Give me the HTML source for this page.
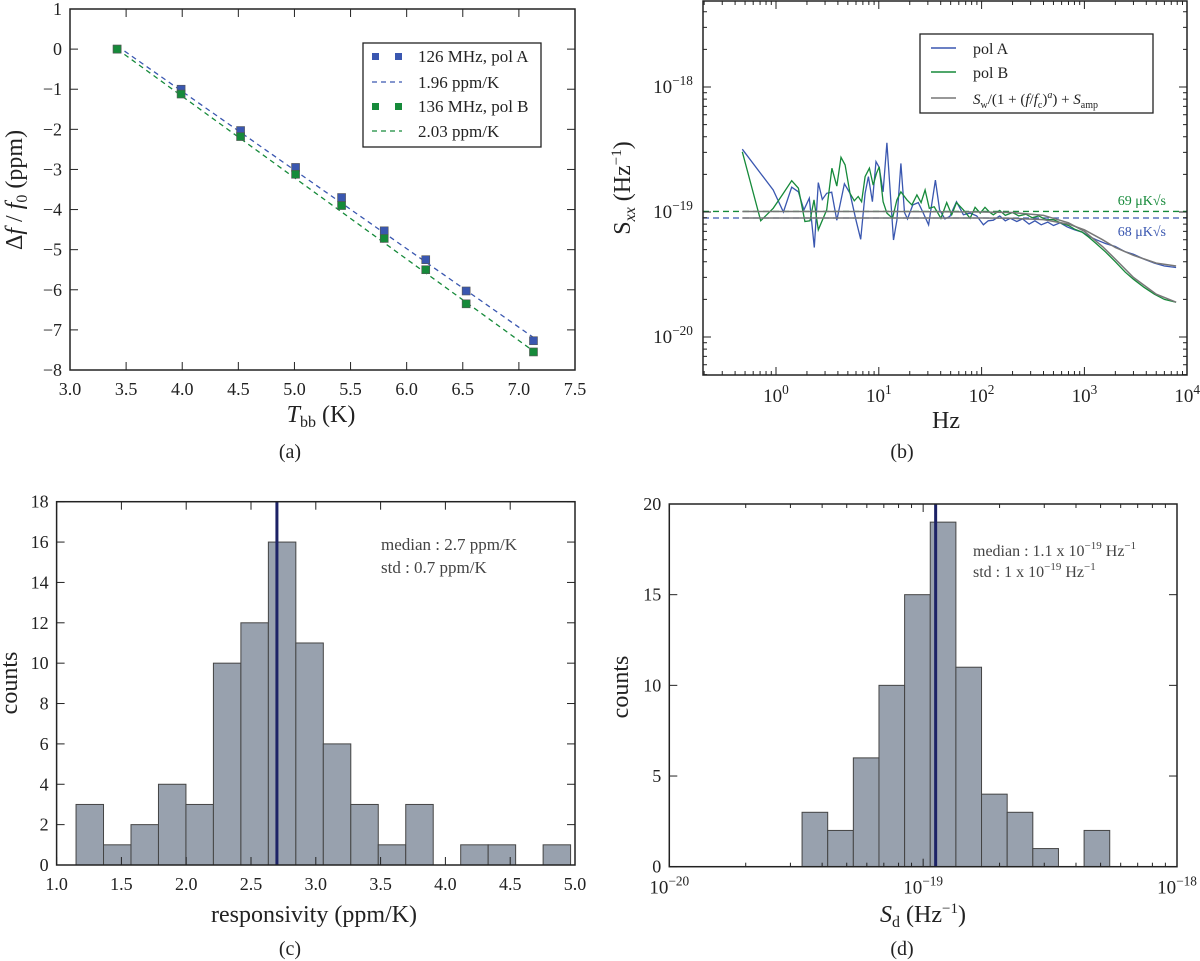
<!DOCTYPE html>
<html><head><meta charset="utf-8">
<style>
html,body{margin:0;padding:0;background:#fff;}
svg{display:block;font-family:"Liberation Serif","DejaVu Serif",serif;}
</style></head>
<body>
<svg id="fig" width="1200" height="961" viewBox="0 0 1200 961" xmlns="http://www.w3.org/2000/svg" font-family="Liberation Serif, DejaVu Serif, serif"></svg>
<script>
// ---------- Panel (a) data ----------
const aTemps = [3.42, 3.99, 4.52, 5.01, 5.42, 5.80, 6.17, 6.53, 7.13];
const aPolA = [0, -1.0, -2.03, -2.95, -3.70, -4.53, -5.25, -6.03, -7.27];
const aPolB = [0, -1.12, -2.18, -3.12, -3.90, -4.72, -5.50, -6.35, -7.55];
const aFitA = [0.08, -7.19];
const aFitB = [0.0, -7.53];
const aXTicks = [3.0, 3.5, 4.0, 4.5, 5.0, 5.5, 6.0, 6.5, 7.0, 7.5];
const aYTicks = [1, 0, -1, -2, -3, -4, -5, -6, -7, -8];

// ---------- Panel (b) data ----------
const bFreqA = [0.47,0.94,1.18,1.42,1.65,1.87,2.11,2.36,2.58,2.82,3.11,3.48,3.9,4.63,5.25,6.0,6.67,7.35,7.93,8.67,9.4,10.1,11.0,12.0,13.9,15.0,16.4,17.8,19.0,21.4,24.2,27.1,30.5,35.5,39.0,44.0,49.0,57.0,66.5,77.3,89.6,104,116,130,150,170,190,220,250,290,330,380,440,500,580,680,800,950,1100,1300,1600,2000,2500,3000,3800,4800,6000,7800];
const bPolA = [3.18e-19,1.5e-19,1.0e-19,1.58e-19,1.45e-19,1.04e-19,1.29e-19,5.2e-20,1.72e-19,1.26e-19,1.41e-19,1.44e-19,8.6e-20,1.68e-19,1.41e-19,8.6e-20,6.05e-20,1.41e-19,1.92e-19,1.21e-19,2.53e-19,2.28e-19,1.45e-19,3.58e-19,5.97e-20,8.6e-20,2.45e-19,0.99e-19,8.8e-20,1.14e-19,1.19e-19,0.98e-19,7.9e-20,1.8e-19,1.04e-19,8.8e-20,0.92e-19,1.21e-19,0.95e-19,0.98e-19,0.93e-19,7.9e-20,8.5e-20,8.6e-20,9.3e-20,8.5e-20,8.9e-20,8.4e-20,8.8e-20,8.0e-20,8.5e-20,7.9e-20,8.3e-20,7.8e-20,8.2e-20,7.6e-20,7.2e-20,6.9e-20,6.4e-20,6.0e-20,5.6e-20,5.3e-20,4.8e-20,4.6e-20,4.2e-20,3.9e-20,3.7e-20,3.6e-20];
const bFreqB = [0.47,0.71,0.94,1.18,1.42,1.65,1.91,2.14,2.34,2.58,3.11,3.5,3.9,4.29,4.7,5.25,5.78,6.3,6.8,7.35,8.1,8.83,9.5,10.1,11.0,12.0,13.6,15.0,16.4,18.8,21.0,23.5,25.8,28.2,31.0,34.6,40.2,45.8,51.2,57.0,66.5,77.3,86.5,97,108,119,130,150,170,200,230,270,310,360,420,500,600,700,800,950,1100,1300,1600,2000,2500,3000,3800,4800,6000,7800];
const bPolB = [3.03e-19,8.5e-20,1.07e-19,1.41e-19,1.78e-19,1.55e-19,8.4e-20,8.5e-20,1.25e-19,7.2e-20,1.04e-19,2.24e-19,1.61e-19,2.74e-19,2.38e-19,1.41e-19,1.23e-19,1.33e-19,1.21e-19,1.92e-19,2.24e-19,1.64e-19,2.04e-19,2.3e-19,1.21e-19,0.98e-19,8.9e-20,1.25e-19,1.45e-19,1.25e-19,1.14e-19,1.37e-19,1.19e-19,1.5e-19,1.07e-19,1.1e-19,8.9e-20,1.19e-19,0.95e-19,1.19e-19,1.04e-19,8.9e-20,1.09e-19,0.98e-19,1.09e-19,1.0e-19,9.5e-20,1.03e-19,9.4e-20,9.9e-20,9.3e-20,9.6e-20,9.0e-20,9.3e-20,8.7e-20,8.7e-20,8.1e-20,7.8e-20,7.3e-20,6.9e-20,6.3e-20,5.6e-20,4.8e-20,4.0e-20,3.3e-20,2.9e-20,2.5e-20,2.2e-20,2.0e-20,1.9e-20];
const bModelFreq = [0.47,10,100,200,400,700,1000,1500,2000,3000,5000,7800];
const bModelA = [8.95e-20,8.95e-20,8.95e-20,8.9e-20,8.7e-20,8.0e-20,7.2e-20,6.0e-20,5.2e-20,4.5e-20,3.9e-20,3.7e-20];
const bModelB = [1.01e-19,1.01e-19,1.0e-19,9.9e-20,9.4e-20,8.2e-20,7.0e-20,5.3e-20,4.2e-20,3.0e-20,2.2e-20,1.9e-20];
const bWhiteA = 8.95e-20;
const bWhiteB = 1.01e-19;
const bXTickExp = [0, 1, 2, 3, 4];
const bYTickExp = [-18, -19, -20];

// ---------- Panel (c) data ----------
const cEdgeStart = 1.15;
const cBinWidth = 0.212;
const cCounts = [3,1,2,4,3,10,12,16,11,6,3,1,3,0,1,1,0,1];
const cMedian = 2.7;
const cXTicks = [1.0,1.5,2.0,2.5,3.0,3.5,4.0,4.5,5.0];
const cYTicks = [0,2,4,6,8,10,12,14,16,18];

// ---------- Panel (d) data ----------
const dEdgeStartLog = -19.477;
const dBinWidthLog = 0.101;
const dCounts = [3,2,6,10,15,19,11,4,3,1,0,2];
const dMedian = 1.12e-19;
const dXTickExp = [-20, -19, -18];
const dYTicks = [0,5,10,15,20];

const NS = "http://www.w3.org/2000/svg";
const FONT = '"Liberation Serif", "DejaVu Serif", serif';
const svg = document.getElementById('fig');
function mk(tag, attrs, parent){
  const e = document.createElementNS(NS, tag);
  for (const k in attrs) e.setAttribute(k, attrs[k]);
  if (tag === 'text') e.setAttribute('font-family', FONT);
  (parent||svg).appendChild(e);
  return e;
}
function txt(x,y,s,size,anchor,parent){
  const t = mk('text',{x:x,y:y,'font-size':size,'text-anchor':anchor||'middle',fill:'#222'},parent);
  t.textContent = s;
  return t;
}
function pow10Label(x,y,exp,size,parent){
  const t = mk('text',{x:x,y:y,'font-size':size,'text-anchor':'middle',fill:'#222'},parent);
  const a = document.createElementNS(NS,'tspan'); a.textContent='10'; t.appendChild(a);
  const b = document.createElementNS(NS,'tspan'); b.setAttribute('dy','-8'); b.setAttribute('font-size',size*0.7);
  b.textContent = (exp<0?'\u2212':'')+Math.abs(exp); t.appendChild(b);
  return t;
}
function tick(x1,y1,x2,y2,parent){ mk('line',{x1:x1,y1:y1,x2:x2,y2:y2,stroke:'#222','stroke-width':1},parent); }
function box(L,T,R,B,parent){
  const r = mk('rect',{x:L,y:T,width:R-L,height:B-T,fill:'none',stroke:'#222','stroke-width':1.5},parent);
   
}
function pathFrom(xs,ys,fx,fy){
  let d='';
  for(let i=0;i<xs.length;i++) d += (i?'L':'M')+fx(xs[i]).toFixed(1)+','+fy(ys[i]).toFixed(1);
  return d;
}
const BLUE='#3a57b0', GREEN='#168a3a', GREY='#777';

// =============== Panel (a) ===============
(function(){
  const g = mk('g',{});  
  const L=70,R=575,T=9,B=370;
  const fx = v => L + (v-3.0)/(7.5-3.0)*(R-L);
  const fy = v => T + (1-v)/(9)*(B-T);
  const la = mk('line',{x1:fx(aTemps[0]),y1:fy(aFitA[0]),x2:fx(aTemps[aTemps.length-1]),y2:fy(aFitA[1]),stroke:BLUE,'stroke-width':1.3,'stroke-dasharray':'5,4'},g);
   
  const lb = mk('line',{x1:fx(aTemps[0]),y1:fy(aFitB[0]),x2:fx(aTemps[aTemps.length-1]),y2:fy(aFitB[1]),stroke:GREEN,'stroke-width':1.3,'stroke-dasharray':'5,4'},g);
   
  for(let i=0;i<aTemps.length;i++){
    const pa = mk('rect',{x:fx(aTemps[i])-4,y:fy(aPolA[i])-4,width:8,height:8,fill:BLUE,stroke:'#555','stroke-width':0.6},g);
     
    const pb = mk('rect',{x:fx(aTemps[i])-4,y:fy(aPolB[i])-4,width:8,height:8,fill:GREEN,stroke:'#555','stroke-width':0.6},g);
     
  }
  box(L,T,R,B,g);
  aXTicks.forEach(v=>{ const x=fx(v); tick(x,B,x,B-8,g); tick(x,T,x,T+8,g);
    const t=txt(x,B+25,v.toFixed(1),18,'middle',g);   });
  aYTicks.forEach(v=>{ const y=fy(v); tick(L,y,L+8,y,g); tick(R,y,R-8,y,g);
    const t=txt(L-8,y+6,(v<0?'\u2212':'')+Math.abs(v),18,'end',g);   });
  const xl = mk('text',{x:321,y:422,'font-size':24,'text-anchor':'middle',fill:'#222'},g);
  xl.innerHTML='<tspan font-style="italic">T</tspan><tspan font-size="16" dy="5">bb</tspan><tspan dy="-5"> (K)</tspan>';
   
  const yl = mk('text',{x:0,y:0,'font-size':24,'text-anchor':'middle',fill:'#222',transform:'translate(22,190) rotate(-90)'},g);
  yl.innerHTML='\u0394<tspan font-style="italic">f</tspan> / <tspan font-style="italic">f</tspan><tspan font-size="16" dy="5">0</tspan><tspan dy="-5"> (ppm)</tspan>';
   
  const cap = txt(290,458,'(a)',20,'middle',g);  
  const lg = mk('g',{},g);  
  mk('rect',{x:363,y:43,width:178,height:104,fill:'#fff',stroke:'#222','stroke-width':1.3},lg);
  const rows=[[56,'sq',BLUE,'126 MHz,  pol A'],[82,'dash',BLUE,'1.96 ppm/K'],[106,'sq',GREEN,'136 MHz,  pol B'],[131,'dash',GREEN,'2.03 ppm/K']];
  rows.forEach(r=>{
    const e = mk('g',{},lg);  
    if(r[1]==='sq'){ mk('rect',{x:372,y:r[0]-3,width:7,height:7,fill:r[2]},e); mk('rect',{x:395,y:r[0]-3,width:7,height:7,fill:r[2]},e); }
    else mk('line',{x1:372,y1:r[0],x2:402,y2:r[0],stroke:r[2],'stroke-width':1.3,'stroke-dasharray':'5,4'},e);
    txt(418,r[0]+6,r[3],17,'start',e);
  });
})();

// =============== Panel (b) ===============
(function(){
  const g = mk('g',{});  
  const L=703,R=1187,T=1,B=375;
  const xDec=102.8, x0=776;
  const fx = f => x0 + Math.log10(f)*xDec;
  const yDec=125, y19=212;
  const fy = s => y19 - (Math.log10(s)+19)*yDec;
  const clip = mk('clipPath',{id:'clipB'},g); mk('rect',{x:L,y:T,width:R-L,height:B-T},clip);
  const pg = mk('g',{'clip-path':'url(#clipB)'},g);
  const dA = mk('line',{x1:L,y1:fy(bWhiteA),x2:R,y2:fy(bWhiteA),stroke:BLUE,'stroke-width':1.3,'stroke-dasharray':'6,4'},pg);
   
  const dB = mk('line',{x1:L,y1:fy(bWhiteB),x2:R,y2:fy(bWhiteB),stroke:GREEN,'stroke-width':1.3,'stroke-dasharray':'6,4'},pg);
   
  const pA = mk('path',{d:pathFrom(bFreqA,bPolA,fx,fy),fill:'none',stroke:BLUE,'stroke-width':1.3},pg);
   
  const pB = mk('path',{d:pathFrom(bFreqB,bPolB,fx,fy),fill:'none',stroke:GREEN,'stroke-width':1.3},pg);
   
  const mA = mk('path',{d:pathFrom(bModelFreq,bModelA,fx,fy),fill:'none',stroke:GREY,'stroke-width':1.5},pg);
   
  const mB = mk('path',{d:pathFrom(bModelFreq,bModelB,fx,fy),fill:'none',stroke:GREY,'stroke-width':1.5},pg);
   
  box(L,T,R,B,g);
  for(let e=-1;e<=3;e++) for(let m=1;m<10;m++){
    const x = fx(m*Math.pow(10,e)); if(x<L||x>R) continue;
    const len = m===1?8:4; tick(x,B,x,B-len,g); tick(x,T,x,T+len,g);
  }
  bXTickExp.forEach(e=>{ const t=pow10Label(fx(Math.pow(10,e)),B+27,e,19,g);   });
  for(let e=-21;e<=-18;e++) for(let m=1;m<10;m++){
    const y = fy(m*Math.pow(10,e)); if(y<T||y>B) continue;
    const len = m===1?8:4; tick(L,y,L+len,y,g); tick(R,y,R-len,y,g);
  }
  bYTickExp.forEach(e=>{ const t=pow10Label(L-30,fy(Math.pow(10,e))+6,e,19,g);   });
  const xl = txt(946,428,'Hz',24,'middle',g);  
  const yl = mk('text',{x:0,y:0,'font-size':24,'text-anchor':'middle',fill:'#222',transform:'translate(630,188) rotate(-90)'},g);
  yl.innerHTML='S<tspan font-size="16" dy="5" font-style="italic">xx</tspan><tspan dy="-5">  (Hz</tspan><tspan font-size="15" dy="-9">\u22121</tspan><tspan dy="9">)</tspan>';
   
  const cap = txt(902,458,'(b)',20,'middle',g);  
  const a1 = mk('text',{x:1166,y:205,'font-size':14,'text-anchor':'end',fill:GREEN},g); a1.textContent='69 \u03bcK\u221as';
   
  const a2 = mk('text',{x:1166,y:236,'font-size':14,'text-anchor':'end',fill:BLUE},g); a2.textContent='68 \u03bcK\u221as';
   
  const lg = mk('g',{},g);  
  mk('rect',{x:920,y:34,width:233,height:79,fill:'#fff',stroke:'#222','stroke-width':1.3},lg);
  [[48,BLUE,'pol A'],[72,GREEN,'pol B']].forEach(r=>{
    const e=mk('g',{},lg);  
    mk('line',{x1:931,y1:r[0],x2:956,y2:r[0],stroke:r[1],'stroke-width':1.5},e); txt(973,r[0]+6,r[2],16,'start',e);
  });
  const e3=mk('g',{},lg);  
  mk('line',{x1:931,y1:98,x2:956,y2:98,stroke:GREY,'stroke-width':1.5},e3);
  const t3=mk('text',{x:973,y:104,'font-size':15,fill:'#222'},e3);
  t3.innerHTML='<tspan font-style="italic">S</tspan><tspan font-size="10" dy="4">w</tspan><tspan dy="-4">/(1 + (</tspan><tspan font-style="italic">f</tspan>/<tspan font-style="italic">f</tspan><tspan font-size="10" dy="4">c</tspan><tspan dy="-4">)</tspan><tspan font-size="10" dy="-6" font-style="italic">a</tspan><tspan dy="6">) + </tspan><tspan font-style="italic">S</tspan><tspan font-size="10" dy="4">amp</tspan>';
})();

// =============== Panel (c) ===============
(function(){
  const g = mk('g',{});  
  const L=56.6,R=575,T=501.7,B=865;
  const fx = v => L + (v-1.0)/4.0*(R-L);
  const fy = v => B - v/18*(B-T);
  cCounts.forEach((c,i)=>{
    if(c===0) return;
    const x1=fx(cEdgeStart+i*cBinWidth), x2=fx(cEdgeStart+(i+1)*cBinWidth);
    const r=mk('rect',{x:x1,y:fy(c),width:x2-x1,height:B-fy(c),fill:'#98a1ae',stroke:'#444','stroke-width':1},g);
     
  });
  const ml=mk('line',{x1:fx(cMedian),y1:T,x2:fx(cMedian),y2:B,stroke:'#1c2266','stroke-width':3},g);
   
  box(L,T,R,B,g);
  cXTicks.forEach(v=>{const x=fx(v); tick(x,B,x,B-8,g); tick(x,T,x,T+8,g);
    const t=txt(x,B+25,v.toFixed(1),18,'middle',g);  });
  cYTicks.forEach(v=>{const y=fy(v); tick(L,y,L+8,y,g); tick(R,y,R-8,y,g);
    const t=txt(L-8,y+6,String(v),18,'end',g);  });
  const xl=txt(314,922,'responsivity (ppm/K)',24,'middle',g);  
  const yl=mk('text',{x:0,y:0,'font-size':24,'text-anchor':'middle',fill:'#222',transform:'translate(17,683) rotate(-90)'},g); yl.textContent='counts';
   
  const cap=txt(290,955,'(c)',20,'middle',g);  
  const a=txt(381,550,'median : 2.7 ppm/K',17,'start',g); a.setAttribute('fill','#444');  
  const s=txt(381,573,'std : 0.7 ppm/K',17,'start',g); s.setAttribute('fill','#444');  
})();

// =============== Panel (d) ===============
(function(){
  const g = mk('g',{});  
  const L=669.3,R=1177,T=504,B=866.7;
  const fxl = lg => L + (lg+20)/2*(R-L);
  const fy = v => B - v/20*(B-T);
  dCounts.forEach((c,i)=>{
    if(c===0) return;
    const x1=fxl(dEdgeStartLog+i*dBinWidthLog), x2=fxl(dEdgeStartLog+(i+1)*dBinWidthLog);
    const r=mk('rect',{x:x1,y:fy(c),width:x2-x1,height:B-fy(c),fill:'#98a1ae',stroke:'#444','stroke-width':1},g);
     
  });
  const mx=fxl(Math.log10(dMedian));
  const ml=mk('line',{x1:mx,y1:T,x2:mx,y2:B,stroke:'#1c2266','stroke-width':3},g);
   
  box(L,T,R,B,g);
  for(let e=-20;e<=-19;e++) for(let m=1;m<10;m++){ const x=fxl(e+Math.log10(m)); const len=m===1?8:4; tick(x,B,x,B-len,g); tick(x,T,x,T+len,g); }
  tick(R,B,R,B-8,g);
  dXTickExp.forEach(e=>{const t=pow10Label(fxl(e),B+27,e,19,g);  });
  dYTicks.forEach(v=>{const y=fy(v); tick(L,y,L+8,y,g); tick(R,y,R-8,y,g);
    const t=txt(L-8,y+6,String(v),18,'end',g);  });
  const xl=mk('text',{x:923,y:922,'font-size':24,'text-anchor':'middle',fill:'#222'},g);
  xl.innerHTML='<tspan font-style="italic">S</tspan><tspan font-size="16" dy="5">d</tspan><tspan dy="-5"> (Hz</tspan><tspan font-size="15" dy="-9">\u22121</tspan><tspan dy="9">)</tspan>';
   
  const yl=mk('text',{x:0,y:0,'font-size':24,'text-anchor':'middle',fill:'#222',transform:'translate(628,687) rotate(-90)'},g); yl.textContent='counts';
   
  const cap=txt(902,955,'(d)',20,'middle',g);  
  const a=mk('text',{x:973,y:556,'font-size':16,fill:'#444'},g);
  a.innerHTML='median : 1.1 x 10<tspan font-size="11" dy="-7">\u221219</tspan><tspan dy="7"> Hz</tspan><tspan font-size="11" dy="-7">\u22121</tspan>';
   
  const s=mk('text',{x:973,y:577,'font-size':16,fill:'#444'},g);
  s.innerHTML='std : 1 x 10<tspan font-size="11" dy="-7">\u221219</tspan><tspan dy="7"> Hz</tspan><tspan font-size="11" dy="-7">\u22121</tspan>';
   
})();
</script>
</body></html>
